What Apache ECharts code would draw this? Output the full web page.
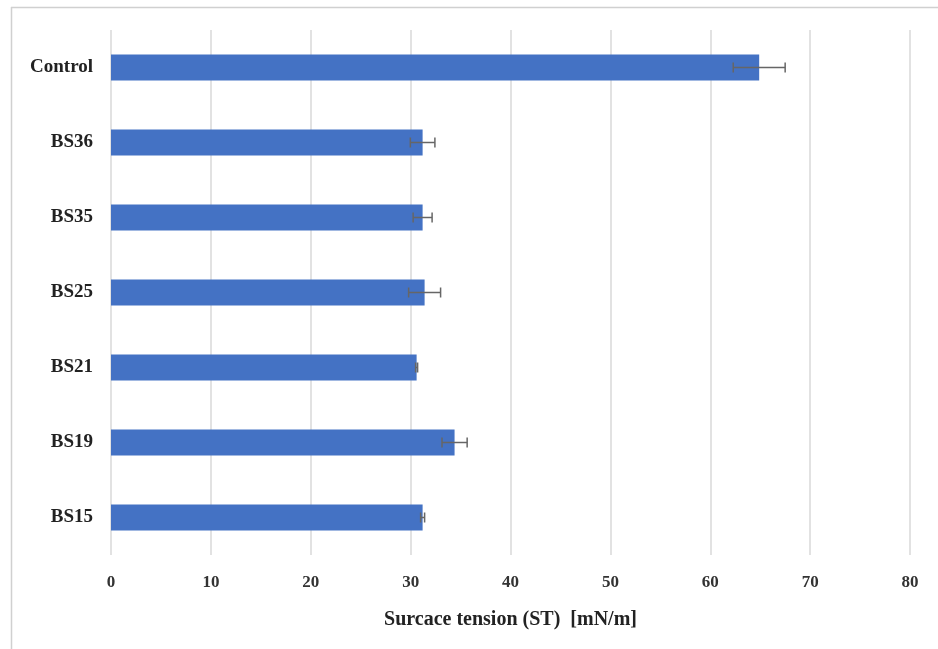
<!DOCTYPE html>
<html><head><meta charset="utf-8">
<script src="https://cdn.jsdelivr.net/npm/echarts@6/dist/echarts.min.js"></script>
<style>html,body{margin:0;padding:0;background:#fff}#c{width:938px;height:649px}</style>
</head><body><div id="c"></div>
<script>
var categories = ['BS15','BS19','BS21','BS25','BS35','BS36','Control'];
var stValues = [31.2, 34.4, 30.6, 31.4, 31.2, 31.2, 64.9];
var stErrors = [0.2, 1.26, 0.1, 1.6, 0.95, 1.23, 2.6];
var xTicks = [0, 10, 20, 30, 40, 50, 60, 70, 80];

var errData = categories.map(function(c, i){ return [i, stValues[i] - stErrors[i], stValues[i] + stErrors[i]]; });
var font = '"Liberation Serif", "DejaVu Serif", serif';
var chart = echarts.init(document.getElementById('c'));
chart.setOption({
  animation: false,
  backgroundColor: '#fff',
  grid: {left: 111, right: 28, top: 30, bottom: 94},
  graphic: [
    {type: 'line', shape: {x1: 11.5, y1: 7, x2: 11.5, y2: 649}, style: {stroke: '#d0d0d0', lineWidth: 1.5}},
    {type: 'line', shape: {x1: 11, y1: 7.5, x2: 938, y2: 7.5}, style: {stroke: '#d0d0d0', lineWidth: 1.5}}
  ],
  xAxis: {
    type: 'value', min: xTicks[0], max: xTicks[xTicks.length-1], interval: 10,
    name: 'Surcace tension (ST)  [mN/m]', nameLocation: 'middle', nameGap: 55,
    nameTextStyle: {fontFamily: font, fontWeight: 'bold', fontSize: 20, color: '#222'},
    axisLine: {show: false}, axisTick: {show: false},
    axisLabel: {fontFamily: font, fontWeight: 'bold', fontSize: 17, color: '#333', margin: 19},
    splitLine: {show: true, lineStyle: {color: '#d9d9d9', width: 1.5}}
  },
  yAxis: {
    type: 'category', data: categories,
    axisLine: {show: false}, axisTick: {show: false},
    axisLabel: {fontFamily: font, fontWeight: 'bold', fontSize: 19, color: '#222', margin: 18}
  },
  series: [
    {type: 'bar', data: stValues, barWidth: 26, itemStyle: {color: '#4472C4'}, z: 2},
    {type: 'custom', data: errData, z: 3,
     renderItem: function(params, api){
       var y = api.value(0);
       var lo = api.coord([api.value(1), y]);
       var hi = api.coord([api.value(2), y]);
       var h = 5;
       var st = {stroke: '#666', lineWidth: 1.5, fill: null};
       return {type: 'group', children: [
         {type: 'line', shape: {x1: lo[0], y1: lo[1], x2: hi[0], y2: hi[1]}, style: st},
         {type: 'line', shape: {x1: lo[0], y1: lo[1]-h, x2: lo[0], y2: lo[1]+h}, style: st},
         {type: 'line', shape: {x1: hi[0], y1: hi[1]-h, x2: hi[0], y2: hi[1]+h}, style: st}
       ]};
     }}
  ]
});
</script></body></html>
